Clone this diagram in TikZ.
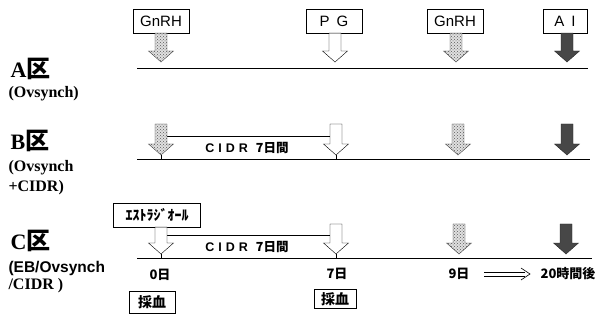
\documentclass[tikz,border=0pt]{standalone}
\usepackage{fontspec}
\setmainfont{Liberation Serif}
\setsansfont{Liberation Sans}
\newfontfamily\jp{Noto Sans CJK JP}
\usetikzlibrary{calc,patterns,arrows.meta,positioning}

\tikzset{
  lbox/.style={draw,fill=white,minimum width=56pt,minimum height=24pt,inner sep=2pt,
    font=\sffamily\fontsize{15}{17}\selectfont},
  blk/.style={to path={let \p1=(\tikztostart), \p2=(\tikztotarget) in
    (\x2-6pt,\y1) -- (\x2-6pt,\y2+11pt) -- (\x2-12.5pt,\y2+11pt) -- (\x2,\y2)
    -- (\x2+12.5pt,\y2+11pt) -- (\x2+6pt,\y2+11pt) -- (\x2+6pt,\y1) -- cycle}},
  dotarr/.style={blk,draw=black!75,preaction={fill=black!12},pattern=crosshatch dots,pattern color=black!65},
  openarr/.style={blk,draw,fill=white},
  darkarr/.style={blk,draw=black!85,fill=black!72},
  grp/.style={anchor=west,font=\bfseries\fontsize{22}{24}\selectfont},
  grpsub/.style={anchor=west,font=\bfseries\fontsize{16}{18}\selectfont},
  cidr/.style={font=\sffamily\bfseries\fontsize{12.5}{14}\selectfont},
  day/.style={font=\jp\bfseries\fontsize{13}{15}\selectfont},
  smpbox/.style={lbox,minimum width=46pt,minimum height=22pt,font=\jp\bfseries\fontsize{14}{16}\selectfont},
}

\begin{document}
\begin{tikzpicture}[x=1pt,y=-1pt]
  \useasboundingbox (0,0) rectangle (607,320);

  % group labels
  \node[grp] (labA) at (7,69) {A{\jp\fontsize{24}{26}\selectfont 区}};
  \node[grpsub] (subA) at (5,94) {(Ovsynch)};
  \node[grp] (labB) at (7,141) {B{\jp\fontsize{24}{26}\selectfont 区}};
  \node[grpsub] (subB1) at (5,168) {(Ovsynch};
  \node[grpsub] (subB2) at (5,188) {+CIDR)};
  \node[grp] (labC) at (7,241) {C{\jp\fontsize{24}{26}\selectfont 区}};
  \node[grpsub,font=\sffamily\bfseries\fontsize{15.5}{18}\selectfont] (subC1) at (5,268) {(EB/Ovsynch};
  \node[grpsub] (subC2) at (5,286) {/CIDR )};

  % time lines
  \coordinate (lAs) at (137,68);  \coordinate (lAe) at (588,68);
  \coordinate (lBs) at (137,159); \coordinate (lBe) at (590,159);
  \coordinate (lCs) at (137,258); \coordinate (lCe) at (592,258);
  \draw[thick] (lAs) -- (lAe);
  \draw[thick] (lBs) -- (lBe);
  \draw[thick] (lCs) -- (lCe);

  % A
  \node[lbox] (gA) at (161,21) {GnRH};
  \node[lbox] (pA) at (334,21) {P\hspace{7pt}G};
  \node[lbox] (g2A) at (455,21) {GnRH};
  \node[lbox,minimum width=44pt] (aiA) at (565,21) {A\hspace{7pt}I};
  \coordinate (tA0) at (161,62);
  \coordinate (tA7) at (335,62);
  \coordinate (tA9) at (456,62);
  \coordinate (tAi) at (567,62);
  \draw[dotarr] (gA.south) to (tA0);
  \draw[openarr] (pA.south) to (tA7);
  \draw[dotarr] (g2A.south) to (tA9);
  \draw[darkarr] (aiA.south) to (tAi);

  % B
  \coordinate (sB0) at (161,124); \coordinate (tB0) at (161,155);
  \coordinate (sB7) at (336,124); \coordinate (tB7) at (336,155);
  \coordinate (sB9) at (458,124); \coordinate (tB9) at (458,155);
  \coordinate (sBi) at (567,124); \coordinate (tBi) at (567,155);
  \coordinate (cB0) at (167,136); \coordinate (cB7) at (330,136);
  \draw (cB0) -- (cB7);
  \node[cidr] (cidrB) at (247,148) {C\hspace{4pt}I\hspace{4pt}D\hspace{4pt}R\hspace{8pt}{\jp 7日間}};
  \draw[dotarr] (sB0) to (tB0);
  \draw[openarr] (sB7) to (tB7);
  \draw[dotarr] (sB9) to (tB9);
  \draw[darkarr] (sBi) to (tBi);
  \draw (tB0) -- (tB0 |- lBs);
  \draw (tB7) -- (tB7 |- lBs);

  % C
  \node[lbox,minimum width=87pt,font=\jp\bfseries\fontsize{14}{16}\selectfont] (estr) at (157,215) {ｴｽﾄﾗｼﾞｵｰﾙ};
  \coordinate (tC0) at (161,254);
  \coordinate (sC7) at (336,224); \coordinate (tC7) at (336,254);
  \coordinate (sC9) at (459,224); \coordinate (tC9) at (459,254);
  \coordinate (sCi) at (566,224); \coordinate (tCi) at (566,254);
  \coordinate (cC0) at (167,235); \coordinate (cC7) at (330,235);
  \draw (cC0) -- (cC7);
  \node[cidr] (cidrC) at (247,247) {C\hspace{4pt}I\hspace{4pt}D\hspace{4pt}R\hspace{8pt}{\jp 7日間}};
  \draw[openarr] (estr.south) to (tC0);
  \draw[openarr] (sC7) to (tC7);
  \draw[dotarr] (sC9) to (tC9);
  \draw[darkarr] (sCi) to (tCi);
  \draw (tC0) -- (tC0 |- lCs);
  \draw (tC7) -- (tC7 |- lCs);

  % days
  \node[day] (d0) at (160,275) {0日};
  \node[day] (d7) at (337,274) {7日};
  \node[day] (d9) at (459,274) {9日};
  \node[day] (h20) at (568,274) {20時間後};
  \coordinate (arS) at (484,274);
  \coordinate (arE) at (530,274);
  \draw[semithick] ([yshift=-1.8pt]arS) -- ([yshift=-1.8pt,xshift=-5pt]arE);
  \draw[semithick] ([yshift=1.8pt]arS) -- ([yshift=1.8pt,xshift=-5pt]arE);
  \draw[semithick] ([xshift=-9pt,yshift=-6pt]arE) -- (arE) -- ([xshift=-9pt,yshift=6pt]arE);

  % sampling
  \node[smpbox] (smp0) at (152,302) {採血};
  \node[smpbox,minimum width=42pt,minimum height=19pt] (smp7) at (335,299) {採血};
\end{tikzpicture}
\end{document}
